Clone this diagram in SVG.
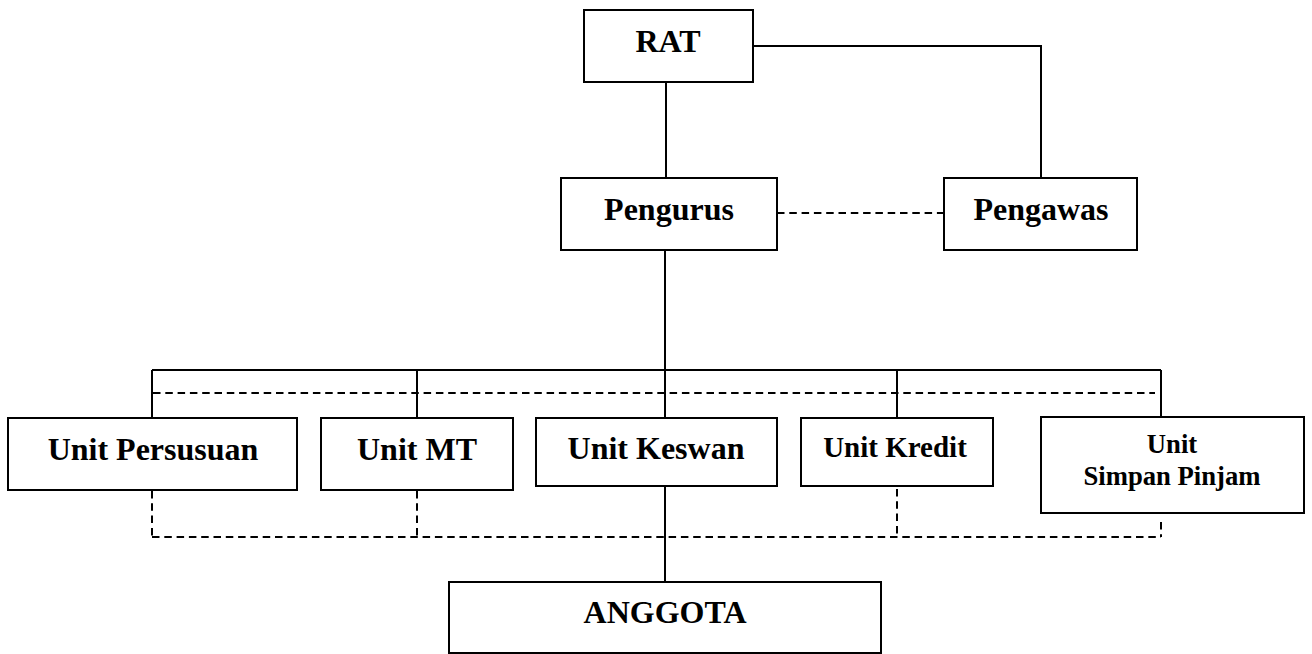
<svg xmlns="http://www.w3.org/2000/svg" width="1312" height="654" viewBox="0 0 1312 654">
<style>
.box{fill:#fff;stroke:#000;stroke-width:2}
.t{font-family:"Liberation Serif","Times New Roman",serif;font-weight:bold;fill:#000;text-anchor:middle}
.s{stroke:#000;stroke-width:2;fill:none}
.d{stroke:#000;stroke-width:2;fill:none;stroke-dasharray:7.5 4.8}
</style>
<rect width="1312" height="654" fill="#fff"/>
<g id="connectors">
<polyline class="s" points="753,46 1041,46 1041,178"/>
<line class="s" x1="666" y1="82" x2="666" y2="178"/>
<line class="d" x1="777" y1="213" x2="944" y2="213"/>
<line class="s" x1="665" y1="250" x2="665" y2="370"/>
<line class="s" x1="152" y1="370" x2="1161" y2="370"/>
<line class="s" x1="152" y1="370" x2="152" y2="418"/>
<line class="s" x1="417" y1="370" x2="417" y2="418"/>
<line class="s" x1="665" y1="370" x2="665" y2="418"/>
<line class="s" x1="897" y1="370" x2="897" y2="418"/>
<line class="s" x1="1161" y1="370" x2="1161" y2="418"/>
<line class="d" x1="153" y1="393" x2="1155" y2="393"/>
<line class="d" x1="152" y1="491" x2="152" y2="537"/>
<line class="d" x1="417" y1="491" x2="417" y2="537"/>
<line class="d" x1="897" y1="489" x2="897" y2="537"/>
<line class="d" x1="1161" y1="522" x2="1161" y2="537"/>
<line class="d" x1="152" y1="537" x2="1161" y2="537"/>
<line class="s" x1="665" y1="486" x2="665" y2="582"/>
</g>
<g id="rat"><rect class="box" x="584" y="10" width="169" height="72"/><text class="t" x="668" y="52" font-size="32">RAT</text></g>
<g id="pengurus"><rect class="box" x="561" y="178" width="216" height="72"/><text class="t" x="669" y="220" font-size="32">Pengurus</text></g>
<g id="pengawas"><rect class="box" x="944" y="178" width="193" height="72"/><text class="t" x="1041" y="220" font-size="32">Pengawas</text></g>
<g id="unit-persusuan"><rect class="box" x="8" y="418" width="289" height="72"/><text class="t" x="153" y="460" font-size="32">Unit Persusuan</text></g>
<g id="unit-mt"><rect class="box" x="321" y="418" width="192" height="72"/><text class="t" x="417" y="460" font-size="32">Unit MT</text></g>
<g id="unit-keswan"><rect class="box" x="536" y="418" width="241" height="68"/><text class="t" x="656" y="459" font-size="32">Unit Keswan</text></g>
<g id="unit-kredit"><rect class="box" x="801" y="418" width="192" height="68"/><text class="t" x="895" y="457" font-size="29">Unit Kredit</text></g>
<g id="unit-simpan-pinjam"><rect class="box" x="1041" y="417" width="263" height="96"/><text class="t" x="1172" y="453" font-size="26.67">Unit</text><text class="t" x="1172" y="485" font-size="26.67">Simpan Pinjam</text></g>
<g id="anggota"><rect class="box" x="449" y="582" width="432" height="71"/><text class="t" x="665" y="623" font-size="32">ANGGOTA</text></g>
</svg>
